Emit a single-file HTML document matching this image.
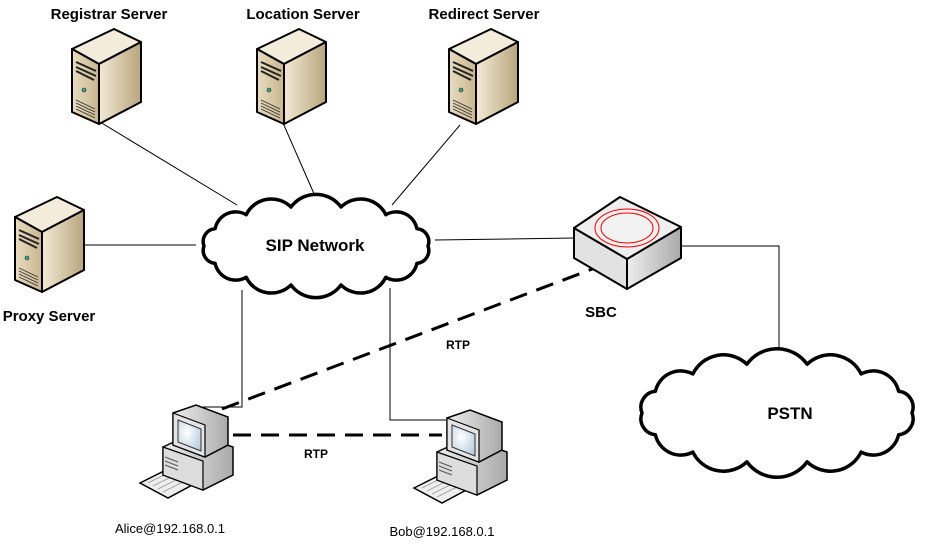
<!DOCTYPE html>
<html><head><meta charset="utf-8"><style>
html,body{margin:0;padding:0;background:#fff;}
svg{display:block;}
text{font-family:"Liberation Sans",sans-serif;}
</style></head><body>
<svg width="929" height="544" viewBox="0 0 929 544" xmlns="http://www.w3.org/2000/svg">
<defs>
<linearGradient id="sf" x1="0" y1="0" x2="1" y2="0"><stop offset="0" stop-color="#f3ead6"/><stop offset="1" stop-color="#b9a57c"/></linearGradient>
<linearGradient id="ff" x1="0" y1="0" x2="1" y2="0"><stop offset="0" stop-color="#e8dcc0"/><stop offset="1" stop-color="#c9b68f"/></linearGradient>
<linearGradient id="bx" x1="0" y1="0" x2="1" y2="0"><stop offset="0" stop-color="#eee"/><stop offset="1" stop-color="#aaa"/></linearGradient>
<radialGradient id="scr" cx="0.4" cy="0.4" r="0.7"><stop offset="0" stop-color="#fff"/><stop offset="1" stop-color="#b9cde0"/></radialGradient>
<g id="srv">
<polygon points="0,20 42,0 69,13 27,35" fill="#f4ecda" stroke="#000" stroke-width="2" stroke-linejoin="round"/>
<polygon points="0,20 27,35 27,95 0,83" fill="url(#ff)" stroke="#000" stroke-width="2" stroke-linejoin="round"/>
<polygon points="27,35 69,13 69,73 27,95" fill="url(#sf)" stroke="#000" stroke-width="2" stroke-linejoin="round"/>
<path d="M4,33 L24,42 M4,38 L24,47 M4,42 L22,51" stroke="#222" stroke-width="2"/>
<circle cx="12" cy="61" r="2" fill="#3a8" stroke="#222" stroke-width="0.6"/>
<path d="M4,71 L23,80 M4,74 L23,83 M4,77 L23,86 M4,80 L23,89" stroke="#333" stroke-width="0.8"/>
</g>
<g id="pc">
<polygon points="2,78 30,64 58,78 30,93" fill="#eee" stroke="#000" stroke-width="1.5"/>
<path d="M10,78 L30,68 M15,81 L35,71 M20,84 L40,74 M25,87 L45,77" stroke="#999" stroke-width="0.8"/>
<polygon points="25,42 55,28 95,42 95,70 65,85 25,70" fill="url(#bx)" stroke="#000" stroke-width="1.5"/>
<polygon points="25,42 65,56 65,85 25,70" fill="#ddd" stroke="#000" stroke-width="1.2"/>
<polygon points="35,8 58,0 90,12 90,40 67,52 35,40" fill="url(#bx)" stroke="#000" stroke-width="1.5"/>
<polygon points="35,8 67,20 67,52 35,40" fill="#e4e4e4" stroke="#000" stroke-width="1.2"/>
<polygon points="40,15 63,24 63,46 40,37" fill="url(#scr)" stroke="#333" stroke-width="1"/>
<path d="M27,52 L40,57 M27,56 L40,61 M27,60 L40,65" stroke="#555" stroke-width="1"/>
</g>
</defs>

<g stroke="#000" stroke-width="1" fill="none">
<line x1="100" y1="122" x2="237" y2="205"/>
<line x1="283" y1="123" x2="315" y2="196"/>
<line x1="460" y1="125" x2="392" y2="205"/>
<line x1="84" y1="245" x2="196" y2="245"/>
<polyline points="242,290 242,407 198,407"/>
<polyline points="390,288 390,420 446,420"/>
<line x1="435" y1="240" x2="575" y2="238"/>
<polyline points="681,246 779,246 779,355"/>
</g>
<g stroke="#000" stroke-width="3" fill="none" stroke-dasharray="18,10">
<line x1="222" y1="409" x2="595" y2="268"/>
<line x1="233" y1="435" x2="442" y2="435"/>
</g>

<use href="#srv" x="72" y="29"/>
<use href="#srv" x="257" y="29"/>
<use href="#srv" x="449" y="29"/>
<use href="#srv" x="15" y="197"/>

<path d="M428,246 A13,13 0 0 1 416.9,263.4 A21,21 0 0 1 385.8,277.3 A28,28 0 0 1 341,285 A31,31 0 0 1 291,285 A28,28 0 0 1 246.2,277.3 A21,21 0 0 1 215.1,263.4 A13,13 0 0 1 204,246 A13,13 0 0 1 215.1,228.6 A21,21 0 0 1 246.2,214.7 A28,28 0 0 1 291,207 A31,31 0 0 1 341,207 A28,28 0 0 1 385.8,214.7 A21,21 0 0 1 416.9,228.6 A13,13 0 0 1 428,246 Z" fill="#fff" stroke="#000" stroke-width="3.5" stroke-linejoin="round"/>
<path d="M912,413 A16,16 0 0 1 898.6,434.7 A26,26 0 0 1 861.1,452.1 A34,34 0 0 1 807.1,461.8 A37,37 0 0 1 746.9,461.8 A34,34 0 0 1 692.9,452.1 A26,26 0 0 1 655.4,434.7 A16,16 0 0 1 642,413 A16,16 0 0 1 655.4,391.3 A26,26 0 0 1 692.9,373.9 A34,34 0 0 1 746.9,364.2 A37,37 0 0 1 807.1,364.2 A34,34 0 0 1 861.1,373.9 A26,26 0 0 1 898.6,391.3 A16,16 0 0 1 912,413 Z" fill="#fff" stroke="#000" stroke-width="3.5" stroke-linejoin="round"/>

<polygon points="574,228 627,259 627,289 574,258" fill="#e2e2e2" stroke="#000" stroke-width="2" stroke-linejoin="round"/>
<polygon points="627,259 681,227 681,258 627,289" fill="url(#bx)" stroke="#000" stroke-width="2" stroke-linejoin="round"/>
<polygon points="574,228 620,197 681,227 627,259" fill="#efefef" stroke="#000" stroke-width="2" stroke-linejoin="round"/>
<ellipse cx="627" cy="228" rx="32" ry="19" fill="none" stroke="#e00" stroke-width="1"/>
<ellipse cx="627" cy="228" rx="26" ry="15" fill="#f2f2f2" stroke="#e00" stroke-width="1"/>

<use href="#pc" x="138" y="405"/>
<use href="#pc" x="412" y="410"/>

<g font-weight="bold" font-size="15" text-anchor="middle" fill="#000">
<text x="109" y="19">Registrar Server</text>
<text x="303" y="19">Location Server</text>
<text x="484" y="19">Redirect Server</text>
<text x="49" y="321">Proxy Server</text>
<text x="601" y="317">SBC</text>
<text x="315" y="251" font-size="17">SIP Network</text>
<text x="790" y="419" font-size="17">PSTN</text>
<text x="458" y="349" font-size="12">RTP</text>
<text x="316" y="458" font-size="12">RTP</text>
</g>
<g font-size="13" text-anchor="middle" fill="#000">
<text x="170" y="533">Alice@192.168.0.1</text>
<text x="442" y="536">Bob@192.168.0.1</text>
</g>
</svg>
</body></html>
